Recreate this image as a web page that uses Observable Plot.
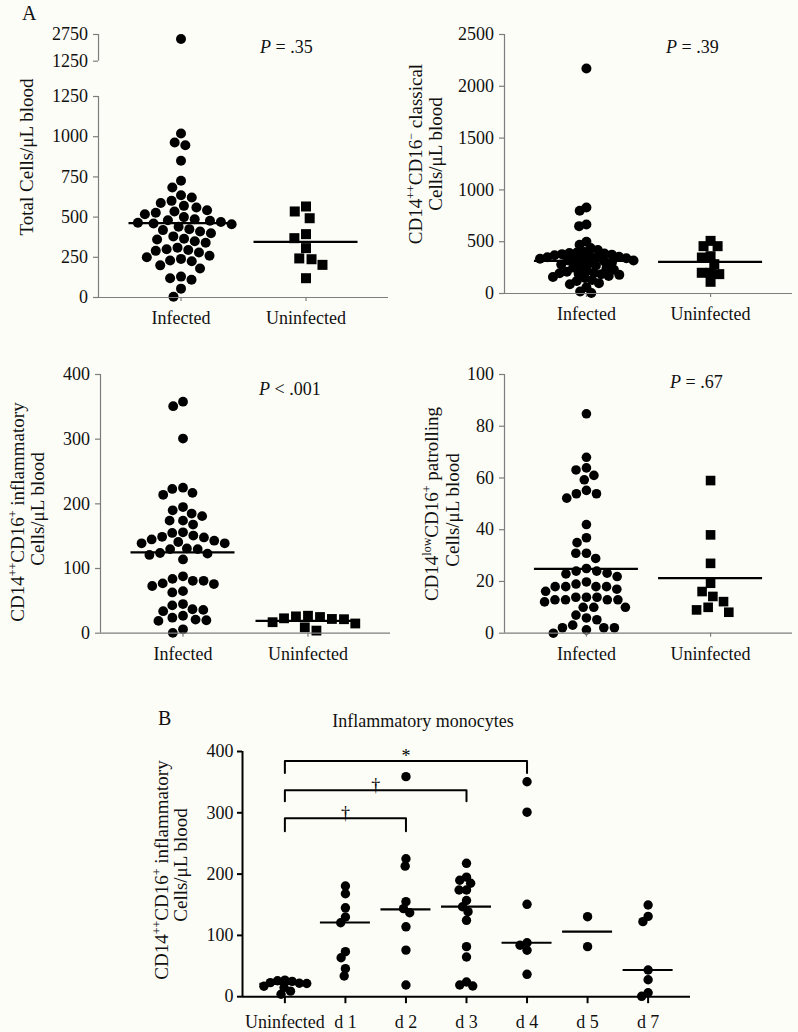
<!DOCTYPE html>
<html><head><meta charset="utf-8">
<script src="https://cdn.jsdelivr.net/npm/d3@7"></script>
<script src="https://cdn.jsdelivr.net/npm/@observablehq/plot@0.6"></script>
<style>
body{margin:0;background:#fdfdf7;}
#page{position:relative;width:798px;height:1032px;background:#fdfdf7;overflow:hidden;font-family:"Liberation Serif","Times New Roman",serif;}
#page svg{position:absolute;overflow:visible;}
#page svg, #page svg text, #page svg g{font-family:"Liberation Serif","Times New Roman",serif !important;}
</style></head><body><div id="page"></div>
<script>
// ---------------- DATA ----------------
const groupsA = ["Infected", "Uninfected"];

const totalInfected = [2500, 1020, 964, 947, 850, 726, 684, 636, 622, 601, 588, 570, 560, 543, 535, 527, 518, 500, 487, 480, 477, 470, 465, 460, 455, 440, 425, 419, 410, 400, 380, 365, 361, 350, 340, 310, 300, 295, 290, 280, 260, 250, 240, 230, 225, 200, 180, 130, 120, 110, 55, 5];
const totalUninfected = [566, 535, 493, 394, 369, 307, 243, 238, 203, 120];
const totalMedians = [462, 346];
const totalTicks = [0, 250, 500, 750, 1000, 1250];
const totalTopTicks = [1250, 2750];

const classicalInfected = [2172, 830, 798, 666, 650, 500, 470, 440, 420, 400, 395, 390, 385, 380, 375, 370, 360, 355, 350, 345, 340, 335, 330, 325, 320, 318, 310, 300, 290, 280, 270, 260, 250, 240, 230, 220, 210, 200, 195, 190, 185, 180, 170, 160, 150, 130, 120, 100, 90, 60, 20, 5];
const classicalUninfected = [508, 457, 457, 360, 347, 283, 200, 200, 187, 113];
const classicalMedians = [315, 305];
const classicalTicks = [0, 500, 1000, 1500, 2000, 2500];

const inflamInfected = [358, 351, 301, 225, 223, 217, 214, 195, 190, 185, 181, 174, 174, 168, 156, 155, 151, 149, 148, 145, 143, 141, 139, 139, 131, 130, 130, 124, 123, 121, 114, 88, 84, 81, 81, 77, 76, 73, 65, 63, 45, 43, 37, 36, 34, 27, 24, 21, 20, 19, 6, 0.5];
const inflamUninfected = [27, 26, 25, 23, 22, 21.6, 17, 15, 9, 4];
const inflamMedians = [125, 19];
const inflamTicks = [0, 100, 200, 300, 400];

const patrolInfected = [84.8, 68, 63.9, 63.1, 61, 59.3, 55.2, 53.9, 53.9, 52.2, 42, 36.9, 35, 30.9, 30.9, 28.9, 25, 24, 24, 23.2, 22.9, 21.9, 19.8, 19, 18, 18, 18, 18, 17, 16.2, 13.9, 13.9, 13.9, 12.9, 12.9, 12.9, 12.9, 12.1, 10, 10, 10, 7, 5.9, 5.2, 3.1, 2.1, 2.1, 2.1, 1.3, 0];
const patrolUninfected = [59, 38, 27, 19.3, 16.1, 14.2, 12.2, 10, 9, 8.1];
const patrolMedians = [24.9, 21.3];
const patrolTicks = [0, 20, 40, 60, 80, 100];

const daysB = ["Uninfected", "d 1", "d 2", "d 3", "d 4", "d 5", "d 7"];
const bUninfected = [27, 26, 25, 23, 22, 21.6, 17, 15, 9, 4];
const bDay1 = [180.6, 168, 145, 130, 120.7, 73.4, 63.6, 45.7, 33.8];
const bDay2 = [359, 225, 213, 155, 143.6, 137, 114, 76, 19];
const bDay3 = [217.6, 195, 190, 185, 174, 174, 157, 146.8, 138.7, 124.6, 81.6, 64.8, 24, 19, 17.5];
const bDay4 = [350.7, 301, 150.7, 88, 84, 75.7, 36.5];
const bDay5 = [130.5, 81.6];
const bDay7 = [149.6, 131, 122.4, 43.5, 27.7, 6.5, 0.6];
const bMedians = [21, 121, 142.6, 146.8, 88, 106, 43.5];
const bTicks = [0, 100, 200, 300, 400];
const brackets = [
  {from: "Uninfected", to: "d 4", top: 384.5, leg: 365, label: "*"},
  {from: "Uninfected", to: "d 3", top: 336.7, leg: 319, label: "\u2020"},
  {from: "Uninfected", to: "d 2", top: 291, leg: 270, label: "\u2020"}
];

// ---------------- DRAWING ----------------
const FONT = '"Liberation Serif", "Times New Roman", serif';
const page = document.getElementById("page");
function place(svg, left, top) {
  svg.style.left = left + "px";
  svg.style.top = top + "px";
  page.appendChild(svg);
}

function panel(cfg) {
  const {left, width, x0, x1, yTop, yBottom, domain, ticks, groups, series, medians = null,
    medHalf = 52, pad, axisColor, axisWidth, r, tickSizeX = 4, tickPadX = 10, tickSizeY = 5, tickPadY = 5.5,
    showX = true, dodgePad = 1, extra = () => [], mT = 20, mB = 48} = cfg;
  const height = (yBottom - yTop) + mT + mB;
  const ml = x0 - left, mr = left + width - x1;
  const n = groups.length;
  const step = (x1 - x0) / (n - 1 + 2 * pad);
  const common = {width, height, marginLeft: ml, marginRight: mr, marginTop: mT, marginBottom: mB,
    style: {background: "transparent", fontFamily: FONT, fontSize: "18px", color: "#111", overflow: "visible"}};

  const dotMarks = series.map(s => Plot.dot(
    s.values.map(v => ({group: s.group, value: v})),
    Plot.dodgeX({anchor: "middle", padding: dodgePad},
      {fx: "group", y: "value", r: s.symbol === "square" ? r * 1.13 : r, symbol: s.symbol, fill: "#000", stroke: "none"})
  ));
  const fp = 2 * pad - 1;
  const dots = Plot.plot({...common,
    fx: {domain: groups, paddingInner: fp, paddingOuter: fp, axis: null, round: false},
    y: {domain, axis: null},
    marks: dotMarks});

  const marks = [];
  if (medians) {
    const medData = groups.map((g, i) => ({group: g, value: medians[i]}));
    marks.push(Plot.ruleY(medData, {y: "value", x1: "group", x2: "group", insetLeft: -medHalf, insetRight: -medHalf, stroke: "#000", strokeWidth: 2.2}));
  }
  if (showX) {
    marks.push(Plot.ruleY([domain[0]], {stroke: axisColor, strokeWidth: axisWidth}));
    marks.push(Plot.axisX({tickSize: tickSizeX, tickPadding: tickPadX, stroke: axisColor, strokeWidth: axisWidth, label: null, fontFamily: FONT, fontSize: 18, fill: "#111"}));
  }
  marks.push(Plot.ruleX([groups[0]], {dx: -pad * step, stroke: axisColor, strokeWidth: axisWidth}));
  marks.push(Plot.axisY({ticks, tickFormat: d => String(d), tickSize: tickSizeY, tickPadding: tickPadY, stroke: axisColor, strokeWidth: axisWidth, label: null, fontFamily: FONT, fontSize: 18, fill: "#111"}));
  marks.push(...extra(step));
  const overlay = Plot.plot({...common,
    x: {type: "point", domain: groups, padding: pad, axis: null, round: false},
    y: {domain, axis: null},
    marks});
  place(dots, left, yTop - mT);
  place(overlay, left, yTop - mT);
}

const GREY = "#7d7d7d";
const padA = 0.66;

// Panel A1 – total (broken axis)
panel({left: 0, width: 400, x0: 98, x1: 388, yTop: 95.7, yBottom: 296.7, domain: [0, 1250], ticks: totalTicks,
  groups: groupsA, series: [
    {group: "Infected", symbol: "circle", values: totalInfected.filter(v => v <= 1250)},
    {group: "Uninfected", symbol: "square", values: totalUninfected}],
  medians: totalMedians, pad: padA, axisColor: GREY, axisWidth: 1.2, r: 5});
panel({left: 0, width: 400, x0: 98, x1: 388, yTop: 34.3, yBottom: 61, domain: [1250, 2750], ticks: totalTopTicks,
  groups: groupsA, series: [
    {group: "Infected", symbol: "circle", values: totalInfected.filter(v => v > 1250)}],
  showX: false, pad: padA, axisColor: GREY, axisWidth: 1.2, r: 5, mT: 15, mB: 10});

// Panel A2 – classical
panel({left: 400, width: 398, x0: 504, x1: 792, yTop: 34.3, yBottom: 293.3, domain: [0, 2500], ticks: classicalTicks,
  groups: groupsA, series: [
    {group: "Infected", symbol: "circle", values: classicalInfected},
    {group: "Uninfected", symbol: "square", values: classicalUninfected}],
  medians: classicalMedians, pad: padA, axisColor: GREY, axisWidth: 1.2, r: 5, dodgePad: -2.5});

// Panel A3 – inflammatory
panel({left: 0, width: 400, x0: 100, x1: 390, yTop: 374, yBottom: 632.7, domain: [0, 400], ticks: inflamTicks,
  groups: groupsA, series: [
    {group: "Infected", symbol: "circle", values: inflamInfected},
    {group: "Uninfected", symbol: "square", values: inflamUninfected}],
  medians: inflamMedians, pad: padA, axisColor: GREY, axisWidth: 1.2, r: 4.9});

// Panel A4 – patrolling
panel({left: 400, width: 398, x0: 504, x1: 792, yTop: 374, yBottom: 632.7, domain: [0, 100], ticks: patrolTicks,
  groups: groupsA, series: [
    {group: "Infected", symbol: "circle", values: patrolInfected},
    {group: "Uninfected", symbol: "square", values: patrolUninfected}],
  medians: patrolMedians, pad: padA, axisColor: GREY, axisWidth: 1.2, r: 4.8});

// Panel B – time course
const bSeries = [bUninfected, bDay1, bDay2, bDay3, bDay4, bDay5, bDay7].map((vals, i) => ({group: daysB[i], symbol: "circle", values: vals}));
const bracketPts = brackets.flatMap((b, i) => [
  {id: i, x: b.from, y: b.leg}, {id: i, x: b.from, y: b.top}, {id: i, x: b.to, y: b.top}, {id: i, x: b.to, y: b.leg}]);
panel({left: 0, width: 798, x0: 242, x1: 690, yTop: 750.5, yBottom: 995.7, domain: [0, 400], ticks: bTicks,
  groups: daysB, series: bSeries, medians: bMedians, medHalf: 25, pad: 0.7, axisColor: "#000", axisWidth: 2,
  r: 4.7, tickSizeX: 7, tickPadX: 12, tickSizeY: 5, tickPadY: 4, dodgePad: -2,
  extra: (step) => [
    Plot.line(bracketPts, {x: "x", y: "y", z: "id", stroke: "#000", strokeWidth: 2}),
    ...brackets.map(b => Plot.text([b], {x: "from", y: "top", text: "label", fontSize: 18, fontFamily: FONT, fill: "#000",
      dx: (daysB.indexOf(b.to) - daysB.indexOf(b.from)) * step / 2, dy: -5}))
  ]});

// ---------------- TEXT ANNOTATIONS ----------------
const sup = (s) => `<tspan dy="-7" font-size="12">${s}</tspan><tspan dy="7">`;
const ann = `<svg xmlns="http://www.w3.org/2000/svg" width="798" height="1032" style="left:0;top:0;pointer-events:none" fill="#111">
<text x="22" y="20" font-size="20">A</text>
<text x="158" y="725" font-size="20">B</text>
<text x="423" y="727" font-size="18" text-anchor="middle">Inflammatory monocytes</text>
<text x="260" y="53" font-size="18"><tspan font-style="italic">P</tspan> = .35</text>
<text x="666" y="53" font-size="18"><tspan font-style="italic">P</tspan> = .39</text>
<text x="259" y="395" font-size="18"><tspan font-style="italic">P</tspan> &lt; .001</text>
<text x="670" y="388" font-size="18"><tspan font-style="italic">P</tspan> = .67</text>
<g font-size="19" text-anchor="middle">
<text transform="translate(33,157) rotate(-90)">Total Cells/μL blood</text>
<text transform="translate(422,154) rotate(-90)">CD14${sup("++")}CD16${sup("\u2212")} classical</tspan></tspan></text>
<text transform="translate(442,154) rotate(-90)">Cells/μL blood</text>
<text transform="translate(24,512) rotate(-90)">CD14${sup("++")}CD16${sup("+")} inflammatory</tspan></tspan></text>
<text transform="translate(44,509) rotate(-90)">Cells/μL blood</text>
<text transform="translate(438,504) rotate(-90)">CD14${sup("low")}CD16${sup("+")} patrolling</tspan></tspan></text>
<text transform="translate(459,510) rotate(-90)">Cells/μL blood</text>
<text transform="translate(168,870) rotate(-90)">CD14${sup("++")}CD16${sup("+")} inflammatory</tspan></tspan></text>
<text transform="translate(187,865) rotate(-90)">Cells/μL blood</text>
</g>
</svg>`;
page.insertAdjacentHTML("beforeend", ann);
</script>
</body></html>
